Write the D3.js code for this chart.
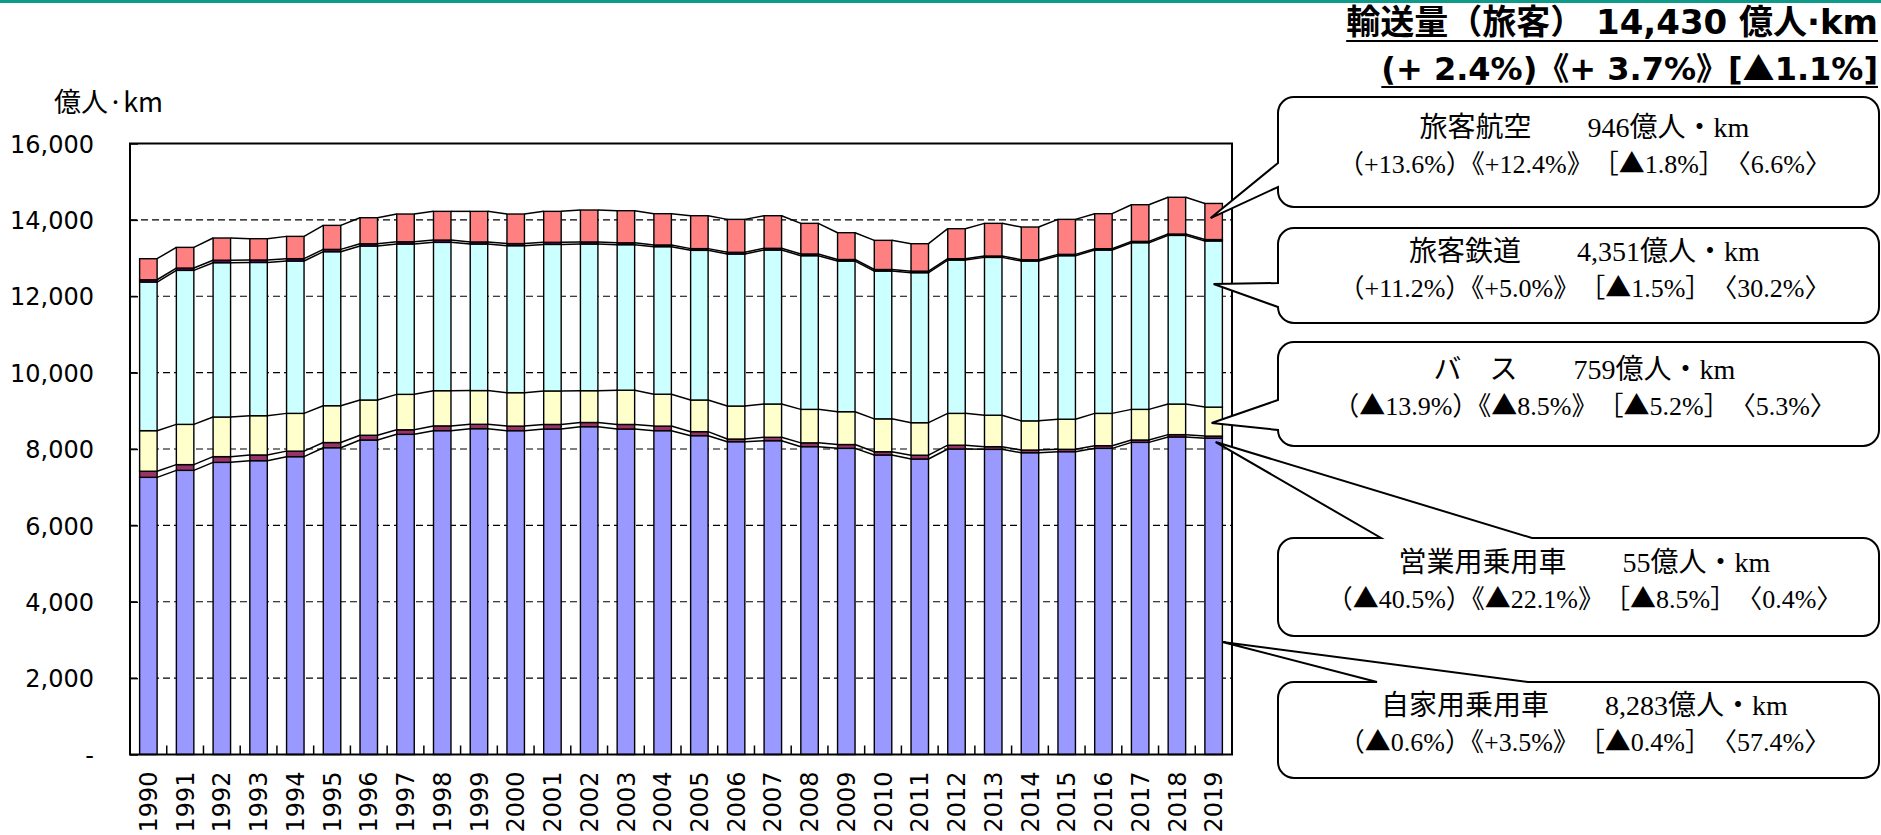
<!DOCTYPE html>
<html><head><meta charset="utf-8">
<script src="https://cdn.jsdelivr.net/npm/d3@7"></script>
<style>
html,body{margin:0;padding:0;background:#fff;}
svg{display:block;}
</style></head><body>
<svg id="chart" width="1881" height="835"></svg>
<script>
// ---------- data ----------
const years = ["1990","1991","1992","1993","1994","1995","1996","1997","1998","1999",
               "2000","2001","2002","2003","2004","2005","2006","2007","2008","2009",
               "2010","2011","2012","2013","2014","2015","2016","2017","2018","2019"];
const privateCar = [7258,7441,7650,7694,7799,8034,8235,8384,8480,8532,
                    8480,8523,8584,8523,8480,8349,8191,8217,8061,8017,
                    7843,7738,8000,7991,7903,7930,8017,8174,8316,8283];
const commercialCar = [160,150,150,150,145,135,125,120,125,115,
                       120,120,110,120,120,105,70,90,100,100,
                       85,100,100,70,70,62,70,62,60,55];
const bus = [1062,1054,1038,1028,989,965,923,927,922,883,
             875,877,833,897,835,829,864,871,877,860,
             862,851,833,824,764,788,846,802,801,759];
const rail = [3892,4033,4041,4013,3989,4033,4032,3936,3884,3837,
              3849,3838,3840,3810,3863,3919,3981,4032,4024,3945,
              3870,3928,4015,4133,4185,4282,4277,4364,4417,4351];
const ship = [60,60,65,65,62,60,60,60,60,55,
              55,55,55,50,45,45,45,45,45,40,
              40,40,35,35,35,35,35,35,35,36];
const air = [551,542,581,557,584,629,682,726,752,801,
             774,810,836,840,819,862,862,854,802,702,
             764,719,786,856,856,916,917,960,963,946];
const seriesNames = ["自家用乗用車","営業用乗用車","バス","旅客鉄道","旅客船","旅客航空"];
const yTickValues = [0,2000,4000,6000,8000,10000,12000,14000,16000];
const yAxisTitle = "億人·km";
const titleLines = ["輸送量（旅客） 14,430 億人·km", "(+ 2.4%)《+ 3.7%》[▲1.1%]"];
const calloutTexts = [
  ["旅客航空　　946億人・km", "（+13.6%）《+12.4%》　［▲1.8%］　〈6.6%〉"],
  ["旅客鉄道　　4,351億人・km", "（+11.2%）《+5.0%》　［▲1.5%］　〈30.2%〉"],
  ["バ　ス　　759億人・km", "（▲13.9%）《▲8.5%》　［▲5.2%］　〈5.3%〉"],
  ["営業用乗用車　　55億人・km", "（▲40.5%）《▲22.1%》　［▲8.5%］　〈0.4%〉"],
  ["自家用乗用車　　8,283億人・km", "（▲0.6%）《+3.5%》　［▲0.4%］　〈57.4%〉"]
];
// value (in 億人km) at which each callout pointer touches the 2019 bar
const calloutAnchorValues = [14048, 12320, 8681, 8183, 2946];

// ---------- layout / style ----------
const keys = ["car","taxi","bus","rail","ship","air"];
const colors = {car:"#9999FF", taxi:"#993366", bus:"#FFFFCC", rail:"#CCFFFF", ship:"#660066", air:"#FF8080"};
const P = {left:130, right:1232, top:143.5, bottom:754.5};
const latin = "'DejaVu Sans','Noto Sans CJK JP',sans-serif";
const cjk = "'Noto Sans CJK JP',sans-serif";
const boxFont = "'Liberation Serif','Noto Sans CJK JP',serif";

const svg = d3.select("#chart");
svg.append("rect").attr("x",0).attr("y",0).attr("width",1881).attr("height",3).attr("fill","#0E9B8A");

const x = d3.scaleBand().domain(years).range([P.left,P.right]).paddingInner(0.524).paddingOuter(0.262);
const y = d3.scaleLinear().domain([0,16000]).range([P.bottom,P.top]);
const bw = x.bandwidth();

const rows = years.map((yr,i)=>({year:yr, car:privateCar[i], taxi:commercialCar[i], bus:bus[i],
  rail:rail[i], ship:ship[i], air:air[i]}));
const stacked = d3.stack().keys(keys)(rows);

// gridlines
svg.append("g").selectAll("line").data(yTickValues.filter(v=>v>0 && v<16000)).join("line")
  .attr("x1",P.left).attr("x2",P.right).attr("y1",d=>y(d)).attr("y2",d=>y(d))
  .attr("stroke","#000").attr("stroke-width",1.2).attr("stroke-dasharray","7,4");

// series lines
const sl = svg.append("g");
stacked.forEach(layer=>{
  for(let i=0;i<layer.length-1;i++){
    sl.append("line")
      .attr("x1",x(years[i])+bw).attr("y1",y(layer[i][1]))
      .attr("x2",x(years[i+1])).attr("y2",y(layer[i+1][1]))
      .attr("stroke","#000").attr("stroke-width",1.5);
  }
});

// bars
svg.append("g").selectAll("g").data(stacked).join("g")
  .attr("fill",d=>colors[d.key])
  .selectAll("rect").data(d=>d).join("rect")
  .attr("x",d=>x(d.data.year)).attr("width",bw)
  .attr("y",d=>y(d[1])).attr("height",d=>y(d[0])-y(d[1]))
  .attr("stroke","#000").attr("stroke-width",1.4);

// plot border
svg.append("rect").attr("x",P.left).attr("y",P.top).attr("width",P.right-P.left).attr("height",P.bottom-P.top)
  .attr("fill","none").attr("stroke","#000").attr("stroke-width",2);

// y axis
const yAxis = d3.axisLeft(y).tickValues(yTickValues).tickSizeInner(-8).tickSizeOuter(0).tickPadding(36)
  .tickFormat(v=> v===0 ? "-" : d3.format(",")(v));
const yg = svg.append("g").attr("transform",`translate(${P.left},0)`).call(yAxis);
yg.select(".domain").remove();
yg.selectAll(".tick line").attr("stroke","#000").attr("stroke-width",1.5);
yg.selectAll("text").attr("font-family",latin).attr("font-size",24).attr("fill","#000").attr("dy","0.36em");

// x axis
const xAxis = d3.axisBottom(x).tickSize(0).tickPadding(0);
const xg = svg.append("g").attr("transform",`translate(0,${P.bottom})`).call(xAxis);
xg.select(".domain").remove();
xg.selectAll("text").attr("font-family",latin).attr("font-size",24).attr("fill","#000")
  .attr("transform","rotate(-90)").attr("x",-17).attr("y",0).attr("dy","0.36em").style("text-anchor","end");
// category separator ticks
const gap = x.step()*x.paddingInner();
svg.append("g").selectAll("line").data(years.slice(1)).join("line")
  .attr("x1",d=>x(d)-gap/2).attr("x2",d=>x(d)-gap/2)
  .attr("y1",P.bottom).attr("y2",P.bottom-9).attr("stroke","#000").attr("stroke-width",1.5);

// y axis title
svg.append("text").attr("x",54).attr("y",112).attr("font-family",cjk)
  .attr("font-size",27).attr("fill","#000").text(yAxisTitle);

// helper: write text, rendering ▲ with the CJK font (full-width triangle)
function writeRich(sel, str){
  str.split(/(▲)/).forEach(part=>{
    if(part==="") return;
    const ts = sel.append("tspan").text(part);
    if(part==="▲") ts.attr("font-family",cjk);
  });
}

// title
const tBase = [34, 80];
const tSize = [34, 32];
titleLines.forEach((t,i)=>{
  const tx = svg.append("text").attr("x",1878).attr("y",tBase[i]).attr("text-anchor","end")
    .attr("font-family",latin).attr("font-weight","bold").attr("font-size",tSize[i]).attr("fill","#000");
  writeRich(tx, t);
  const w = tx.node().getComputedTextLength();
  svg.append("line").attr("x1",1878-w).attr("x2",1878).attr("y1",tBase[i]+7).attr("y2",tBase[i]+7)
    .attr("stroke","#000").attr("stroke-width",2);
});

// callouts
const boxes = [
  {x0:1278,y0:97, x1:1879,y1:207, side:"left", a:163, b:187, tipDx:-3},
  {x0:1278,y0:228,x1:1879,y1:323, side:"left", a:283, b:307, tipDx:0},
  {x0:1278,y0:342,x1:1879,y1:446, side:"left", a:400, b:430, tipDx:-2},
  {x0:1278,y0:538,x1:1879,y1:636, side:"top",  a:1381,b:1532, tipDx:2},
  {x0:1278,y0:682,x1:1879,y1:778, side:"top",  a:1377,b:1528, tipDx:bw/2}
];
const lastYear = years[years.length-1];
function calloutPath(b, tx, ty){
  const r = 16, {x0,y0,x1,y1} = b;
  let p = `M${x0+r},${y0}`;
  if(b.side==="top") p += ` H${b.a} L${tx},${ty} L${b.b},${y0}`;
  p += ` H${x1-r} A${r},${r} 0 0 1 ${x1},${y0+r} V${y1-r} A${r},${r} 0 0 1 ${x1-r},${y1}`;
  p += ` H${x0+r} A${r},${r} 0 0 1 ${x0},${y1-r}`;
  if(b.side==="left") p += ` V${b.b} L${tx},${ty} L${x0},${b.a}`;
  p += ` V${y0+r} A${r},${r} 0 0 1 ${x0+r},${y0} Z`;
  return p;
}
boxes.forEach((b,i)=>{
  const tx = x(lastYear)+bw/2+b.tipDx, ty = y(calloutAnchorValues[i]);
  svg.append("path").attr("d",calloutPath(b,tx,ty)).attr("fill","#fff").attr("stroke","#000").attr("stroke-width",2);
  const cx = (b.x0+b.x1)/2+6, cy = (b.y0+b.y1)/2;
  calloutTexts[i].forEach((t,j)=>{
    const te = svg.append("text").attr("x",cx).attr("y",cy + (j===0?-15:21)).attr("text-anchor","middle")
      .attr("font-family",boxFont).attr("font-size",j===0?28:26).attr("fill","#000");
    writeRich(te, t);
  });
});
</script>
</body></html>
